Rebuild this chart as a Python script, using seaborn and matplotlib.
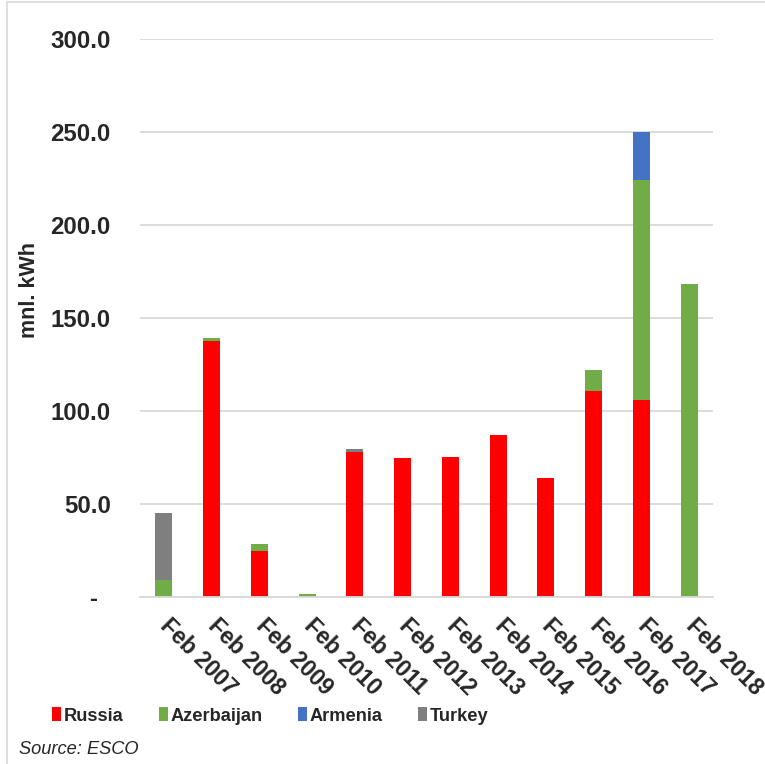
import matplotlib
matplotlib.use("Agg")
import matplotlib.pyplot as plt
from matplotlib import font_manager
from matplotlib.font_manager import FontProperties
from matplotlib.patches import Patch, Rectangle
import seaborn as sns
import pandas as pd

# Monthly electricity imports (February), million kWh
periods = ["Feb 2007", "Feb 2008", "Feb 2009", "Feb 2010", "Feb 2011", "Feb 2012",
           "Feb 2013", "Feb 2014", "Feb 2015", "Feb 2016", "Feb 2017", "Feb 2018"]
russia     = [0, 137.5, 24.5, 0, 78, 75, 75.5, 87, 64, 111, 106, 0]
azerbaijan = [9, 2, 4, 1.5, 0, 0, 0, 0, 0, 11, 118, 168.5]
armenia    = [0, 0, 0, 0, 0, 0, 0, 0, 0, 0, 26, 0]
turkey     = [36, 0, 0, 0, 1.5, 0, 0, 0, 0, 0, 0, 0]

series_names = ["Russia", "Azerbaijan", "Armenia", "Turkey"]
series_colors = ["#FF0000", "#70AD47", "#4472C4", "#7F7F7F"]
y_ticks = [0, 50, 100, 150, 200, 250, 300]
y_tick_labels = ["-  ", "50.0", "100.0", "150.0", "200.0", "250.0", "300.0"]

sns.set_theme(style="white")
plt.rcParams["font.family"] = ["Liberation Sans", "DejaVu Sans"]


def narrow_font(weight, style, size):
    """Liberation Sans Narrow face from its file, else regular Liberation Sans, smaller."""
    for f in font_manager.fontManager.ttflist:
        fn = f.fname.replace("\\", "/").split("/")[-1].lower()
        if "liberationsansnarrow" in fn:
            is_bold = "bold" in fn
            is_italic = "italic" in fn
            if is_bold == (weight == "bold") and is_italic == (style == "italic"):
                return FontProperties(fname=f.fname, size=size)
    return FontProperties(family="Liberation Sans", weight=weight, style=style,
                          size=size * 0.85)


legend_font = narrow_font("bold", "normal", 15.5)
source_font = narrow_font("normal", "italic", 15.5)

df = pd.DataFrame({"period": periods, "Russia": russia, "Azerbaijan": azerbaijan,
                   "Armenia": armenia, "Turkey": turkey})
# cumulative heights for stacking (drawn from the top layer down)
cum = df[series_names].cumsum(axis=1)

fig = plt.figure(figsize=(7.65, 7.64), dpi=100)
W, H = 765, 764
ax = fig.add_axes([140 / W, 1 - 597 / H, (713 - 140) / W, (597 - 39) / H])

for name, color in reversed(list(zip(series_names, series_colors))):
    sns.barplot(x=df["period"], y=cum[name], color=color, width=0.355,
                order=periods, ax=ax, saturation=1, linewidth=0)

ax.set_xlim(-0.5, len(periods) - 0.5)
ax.set_ylim(0, 300)
ax.set_yticks(y_ticks)
ax.set_yticklabels(y_tick_labels, fontsize=17.3, fontweight="bold")
ax.yaxis.grid(True, color="#D9D9D9", linewidth=1.3)
ax.set_axisbelow(True)
for side in ["left", "right", "top"]:
    ax.spines[side].set_visible(False)
ax.spines["bottom"].set_color("#D9D9D9")
ax.spines["bottom"].set_linewidth(1.3)
ax.tick_params(axis="both", length=0)
ax.tick_params(axis="y", pad=21)

ax.set_xlabel("")
ax.set_xticks(range(len(periods)))
ax.set_xticklabels(periods, fontsize=16.5, fontweight="bold", rotation=-45,
                   ha="left", va="center", rotation_mode="anchor")
ax.tick_params(axis="x", pad=18)

ax.set_ylabel("mnl. kWh", fontsize=15.5, fontweight="bold")
ax.yaxis.set_label_coords((40 - 140) / 573, (597 - 290) / 558)

handles = [Patch(facecolor=c, edgecolor="none") for c in series_colors]
leg = fig.legend(handles, series_names, loc="center left",
                 bbox_to_anchor=(52 / W, 1 - 716 / H), ncol=4, frameon=False,
                 prop=legend_font,
                 handlelength=0.5, handleheight=0.75, handletextpad=0.15,
                 columnspacing=1.92, borderaxespad=0, borderpad=0)

fig.text(19 / W, 1 - 749 / H, "Source: ESCO", fontproperties=source_font,
         ha="left", va="center")

# light chart-area border
fig.patches.append(Rectangle((7 / W, -0.05), 1.1, 1 - 2 / H + 0.05,
                             transform=fig.transFigure, fill=False,
                             edgecolor="#D9D9D9", linewidth=1.2))

fig.savefig("out.png", dpi=100)
